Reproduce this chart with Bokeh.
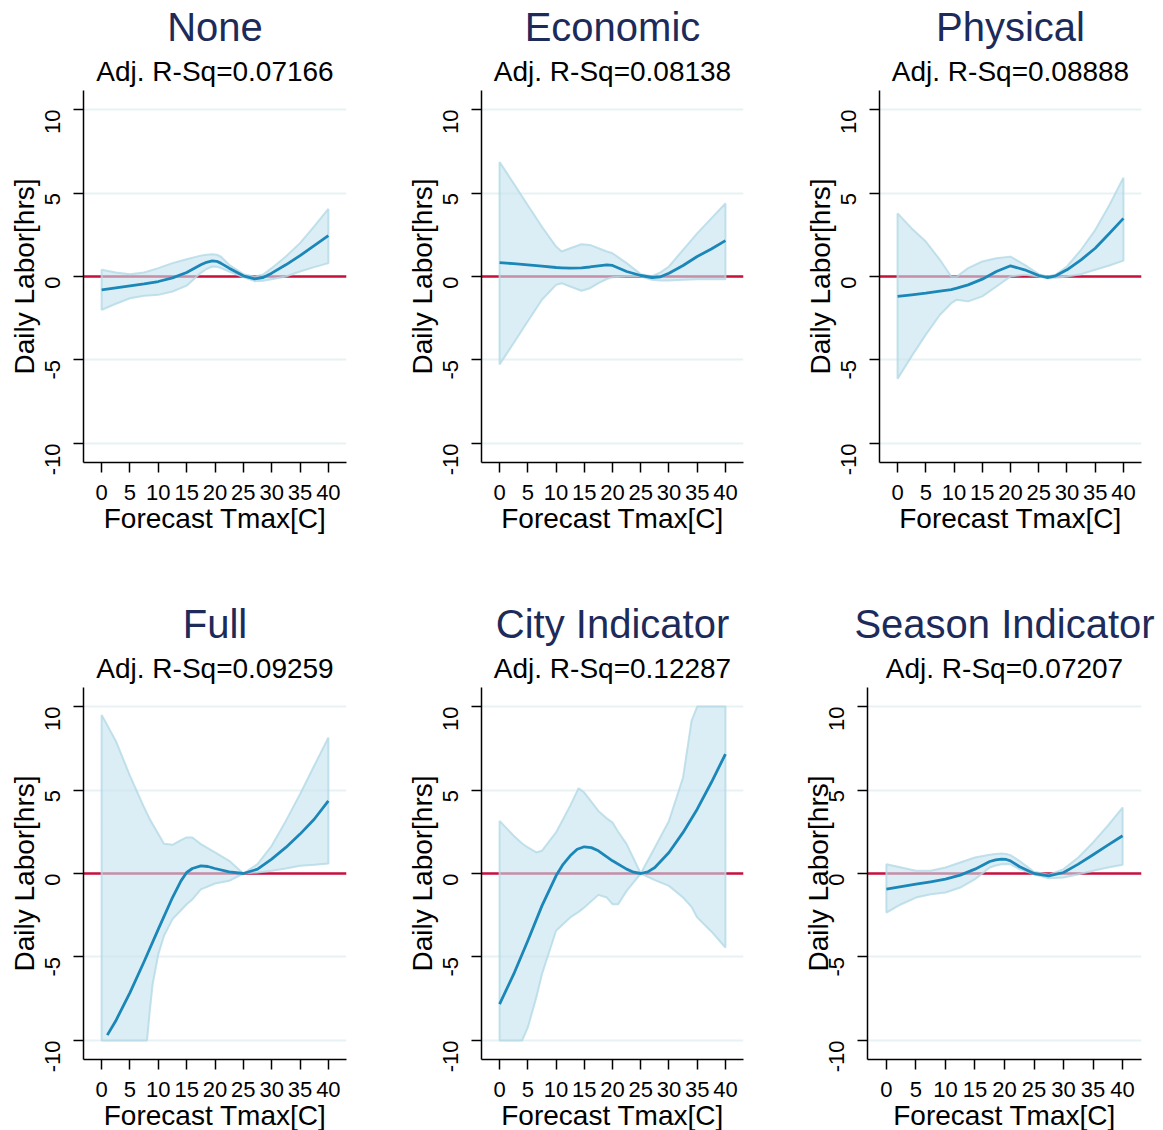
import math

from bokeh.embed import file_html
from bokeh.layouts import column, row
from bokeh.models import FixedTicker, Span, Title
from bokeh.plotting import figure
from bokeh.resources import INLINE

# ---------------------------------------------------------------------------
# Data: fitted response of daily labor (hours) to forecast Tmax, by model
# ---------------------------------------------------------------------------
panel_titles = ["None", "Economic", "Physical", "Full", "City Indicator", "Season Indicator"]
adj_r_sq = ["0.07166", "0.08138", "0.08888", "0.09259", "0.12287", "0.07207"]

x_ticks = [0, 5, 10, 15, 20, 25, 30, 35, 40]
y_ticks = [-10, -5, 0, 5, 10]
y_tick_labels = {-10: "-10", -5: "-5", 0: "0", 5: "5", 10: "10"}

# None
none_x = [0, 2.5, 5, 7.5, 10, 12.5, 15, 17.5, 18.5, 19.5, 20.3, 21, 22.5, 25, 27, 28.5, 30, 32.5, 35, 37.5, 40]
none_fit = [-0.80, -0.68, -0.56, -0.44, -0.30, -0.08, 0.24, 0.70, 0.85, 0.93, 0.91, 0.80, 0.50, 0.04, -0.14, -0.06, 0.20, 0.70, 1.25, 1.85, 2.45]
none_hi = [0.40, 0.24, 0.14, 0.24, 0.50, 0.80, 1.03, 1.25, 1.30, 1.33, 1.30, 1.20, 0.70, 0.14, -0.02, 0.12, 0.50, 1.20, 2.00, 3.00, 4.05]
none_lo = [-2.00, -1.63, -1.30, -1.15, -1.10, -0.90, -0.55, 0.22, 0.45, 0.60, 0.58, 0.52, 0.30, -0.04, -0.28, -0.26, -0.16, 0.00, 0.30, 0.56, 0.80]

# Economic
econ_x = [0, 2.5, 5, 7.5, 10, 11, 12.5, 14.5, 16, 17.5, 19, 20, 22.5, 25, 27, 28.5, 30, 32.5, 35, 37.5, 40]
econ_fit = [0.83, 0.77, 0.70, 0.62, 0.54, 0.52, 0.50, 0.52, 0.57, 0.64, 0.70, 0.66, 0.30, 0.06, -0.06, -0.02, 0.20, 0.66, 1.20, 1.65, 2.15]
econ_hi = [6.86, 5.57, 4.27, 2.98, 1.79, 1.50, 1.69, 1.93, 1.89, 1.69, 1.50, 1.39, 0.80, 0.14, 0.02, 0.25, 0.60, 1.60, 2.58, 3.48, 4.37]
econ_lo = [-5.27, -3.98, -2.68, -1.39, -0.50, -0.40, -0.60, -0.85, -0.70, -0.40, -0.15, -0.04, 0.00, 0.00, -0.20, -0.24, -0.24, -0.20, -0.16, -0.16, -0.16]

# Physical
phys_x = [0, 2.5, 5, 7.5, 9.5, 10.5, 12.5, 15, 17.5, 20, 22.5, 25, 26.5, 28, 30, 32.5, 35, 37.5, 40]
phys_fit = [-1.19, -1.10, -1.00, -0.88, -0.78, -0.70, -0.50, -0.16, 0.30, 0.64, 0.40, 0.06, -0.06, 0.04, 0.40, 1.00, 1.69, 2.58, 3.48]
phys_hi = [3.78, 2.88, 2.09, 1.00, 0.00, 0.00, 0.50, 0.90, 1.09, 1.19, 0.70, 0.14, 0.00, 0.10, 0.60, 1.60, 2.78, 4.27, 5.92]
phys_lo = [-6.12, -4.77, -3.48, -2.29, -1.60, -1.39, -1.49, -1.19, -0.60, 0.00, 0.10, 0.00, -0.10, -0.08, 0.00, 0.14, 0.40, 0.66, 0.95]

# Full
full_band_x = [0, 2.5, 5, 7.5, 8, 8.5, 9, 10, 11, 12.5, 14, 15, 16, 17.5, 20, 22.5, 25, 27.5, 30, 32.5, 35, 37.5, 40]
full_hi = [9.50, 7.94, 5.85, 3.95, 3.60, 3.25, 2.95, 2.36, 1.78, 1.72, 2.00, 2.16, 2.16, 1.76, 1.26, 0.76, 0.00, 0.56, 1.66, 3.15, 4.75, 6.45, 8.14]
full_lo = [-10.0, -10.0, -10.0, -10.0, -10.0, -8.20, -6.60, -4.83, -3.73, -2.73, -2.20, -1.84, -1.55, -0.95, -0.60, -0.44, 0.00, 0.06, 0.16, 0.30, 0.46, 0.52, 0.60]
full_fit_x = [1, 2.5, 5, 7.5, 10, 12.5, 14, 15, 16, 17.5, 18.75, 20, 22.5, 25, 27.5, 30, 32.5, 35, 37.5, 40]
full_fit = [-9.68, -8.82, -7.13, -5.27, -3.33, -1.44, -0.44, 0.06, 0.30, 0.46, 0.42, 0.30, 0.10, 0.00, 0.26, 0.86, 1.56, 2.36, 3.25, 4.35]

# City Indicator
city_band_x = [0, 2.5, 4, 5, 6.5, 7.5, 10, 12.5, 14, 15, 17.5, 19, 20, 21, 22.5, 25, 27.5, 30, 32.5, 34, 35, 37.5, 40]
city_hi = [3.15, 2.26, 1.80, 1.56, 1.26, 1.36, 2.46, 4.05, 5.11, 4.85, 3.75, 3.30, 3.05, 2.50, 1.76, 0.00, 1.56, 3.15, 5.75, 9.14, 10.0, 10.0, 10.0]
city_lo = [-10.0, -10.0, -10.0, -9.22, -7.42, -6.03, -3.43, -2.63, -2.30, -2.04, -1.28, -1.44, -1.84, -1.84, -1.04, 0.00, -0.40, -0.74, -1.44, -2.00, -2.63, -3.47, -4.43]
city_fit_x = [0, 2.5, 5, 7.5, 10, 11.25, 12.5, 13.75, 15, 16.25, 17.5, 20, 22.5, 23.75, 25, 26.25, 27.5, 30, 32.5, 35, 37.5, 40]
city_fit = [-7.82, -6.03, -4.03, -1.94, -0.14, 0.55, 1.06, 1.45, 1.60, 1.55, 1.36, 0.76, 0.26, 0.08, 0.00, 0.10, 0.36, 1.26, 2.46, 3.85, 5.45, 7.15]

# Season Indicator
seas_x = [0, 2.5, 5, 7.5, 10, 12.5, 15, 17.5, 18.5, 19.5, 20.3, 21, 22.5, 25, 27.5, 30, 32.5, 35, 37.5, 40]
seas_fit = [-0.94, -0.79, -0.64, -0.50, -0.34, -0.10, 0.26, 0.72, 0.82, 0.86, 0.84, 0.76, 0.42, 0.00, -0.14, 0.06, 0.56, 1.12, 1.70, 2.26]
seas_hi = [0.56, 0.36, 0.16, 0.16, 0.36, 0.66, 0.96, 1.12, 1.17, 1.20, 1.17, 1.10, 0.76, 0.10, -0.08, 0.26, 0.96, 1.86, 2.86, 3.95]
seas_lo = [-2.34, -1.84, -1.44, -1.24, -1.14, -0.84, -0.34, 0.36, 0.48, 0.56, 0.57, 0.56, 0.26, -0.04, -0.28, -0.24, -0.04, 0.16, 0.36, 0.52]

series = [
    (none_x, none_hi, none_lo, none_x, none_fit),
    (econ_x, econ_hi, econ_lo, econ_x, econ_fit),
    (phys_x, phys_hi, phys_lo, phys_x, phys_fit),
    (full_band_x, full_hi, full_lo, full_fit_x, full_fit),
    (city_band_x, city_hi, city_lo, city_fit_x, city_fit),
    (seas_x, seas_hi, seas_lo, seas_x, seas_fit),
]

# ---------------------------------------------------------------------------
# Styling
# ---------------------------------------------------------------------------
FONT = "Liberation Sans"
TITLE_COLOR = "#1c2b5a"
FIT_COLOR = "#1b87b9"
BAND_FILL = "#c5e3ee"
BAND_LINE = "#b3d9e6"
ZERO_COLOR = "#c8103c"
GRID_COLOR = "#e8f1f3"

FRAME_H = 372
# (min_border_left, frame_width, min_border_right, y-axis label standoff)
col_geom = [
    (83, 263, 52, -5),
    (83, 262, 54, -5),
    (82, 262, 22, -5),
    (83, 263, 52, -5),
    (83, 262, 54, -5),
    (70, 274, 22, -15),
]


def make_panel(i):
    bx, hi, lo, fx, fit = series[i]
    left, fw, right, ylab_standoff = col_geom[i]
    bottom = 135 if i < 3 else 66

    p = figure(
        frame_width=fw, frame_height=FRAME_H,
        x_range=(-3.2, 43.2), y_range=(-11.14, 11.14),
        min_border_left=left, min_border_right=right,
        min_border_top=90, min_border_bottom=bottom,
        output_backend="svg", toolbar_location=None,
        background_fill_color="white", border_fill_color="white",
    )
    p.outline_line_color = None

    # model name on top, fit statistic beneath it (nearest the frame)
    p.title.text = panel_titles[i]
    p.title.align = "center"
    p.title.text_font = FONT
    p.title.text_font_size = "40px"
    p.title.text_font_style = "normal"
    p.title.text_color = TITLE_COLOR
    p.title.standoff = 1
    p.add_layout(Title(text=f"Adj. R-Sq={adj_r_sq[i]}", align="center", text_font=FONT,
                       text_font_size="28px", text_font_style="normal",
                       text_color="black", standoff=8), "above")

    # grid
    p.xgrid.visible = False
    p.ygrid.ticker = FixedTicker(ticks=y_ticks)
    p.ygrid.grid_line_color = GRID_COLOR
    p.ygrid.grid_line_width = 2

    # axes
    for ax in (p.xaxis[0], p.yaxis[0]):
        ax.axis_line_color = "black"
        ax.axis_line_width = 1.5
        ax.major_tick_line_color = "black"
        ax.major_tick_line_width = 1.5
        ax.major_tick_in = 0
        ax.major_tick_out = 10
        ax.minor_tick_line_color = None
        ax.major_label_text_font = FONT
        ax.major_label_text_font_size = "22px"
        ax.major_label_text_color = "black"
        ax.axis_label_text_font = FONT
        ax.axis_label_text_font_size = "28px"
        ax.axis_label_text_font_style = "normal"
        ax.axis_label_text_color = "black"

    p.xaxis.ticker = FixedTicker(ticks=x_ticks)
    p.xaxis.axis_label = "Forecast Tmax[C]"
    p.xaxis.major_label_standoff = 12
    p.xaxis.axis_label_standoff = 0

    p.yaxis.ticker = FixedTicker(ticks=y_ticks)
    p.yaxis.major_label_overrides = y_tick_labels
    p.yaxis.axis_label = "Daily Labor[hrs]"
    p.yaxis.major_label_orientation = math.pi / 2
    p.yaxis.major_label_standoff = 21
    p.yaxis.axis_label_standoff = ylab_standoff

    # zero reference line, under the confidence band
    p.add_layout(Span(location=0, dimension="width", line_color=ZERO_COLOR,
                      line_width=2.5, level="underlay"))

    # confidence band
    p.patch(x=bx + bx[::-1], y=hi + lo[::-1], fill_color=BAND_FILL, fill_alpha=0.6,
            line_color=BAND_LINE, line_width=2, line_alpha=0.8)

    # fitted curve
    p.line(x=fx, y=fit, line_color=FIT_COLOR, line_width=2.8, line_join="round")
    return p


panels = [make_panel(i) for i in range(6)]
layout = column(row(*panels[:3], spacing=0), row(*panels[3:], spacing=0), spacing=0)

open("out.html", "w").write(file_html(layout, INLINE, title="Daily labor vs forecast Tmax"))
